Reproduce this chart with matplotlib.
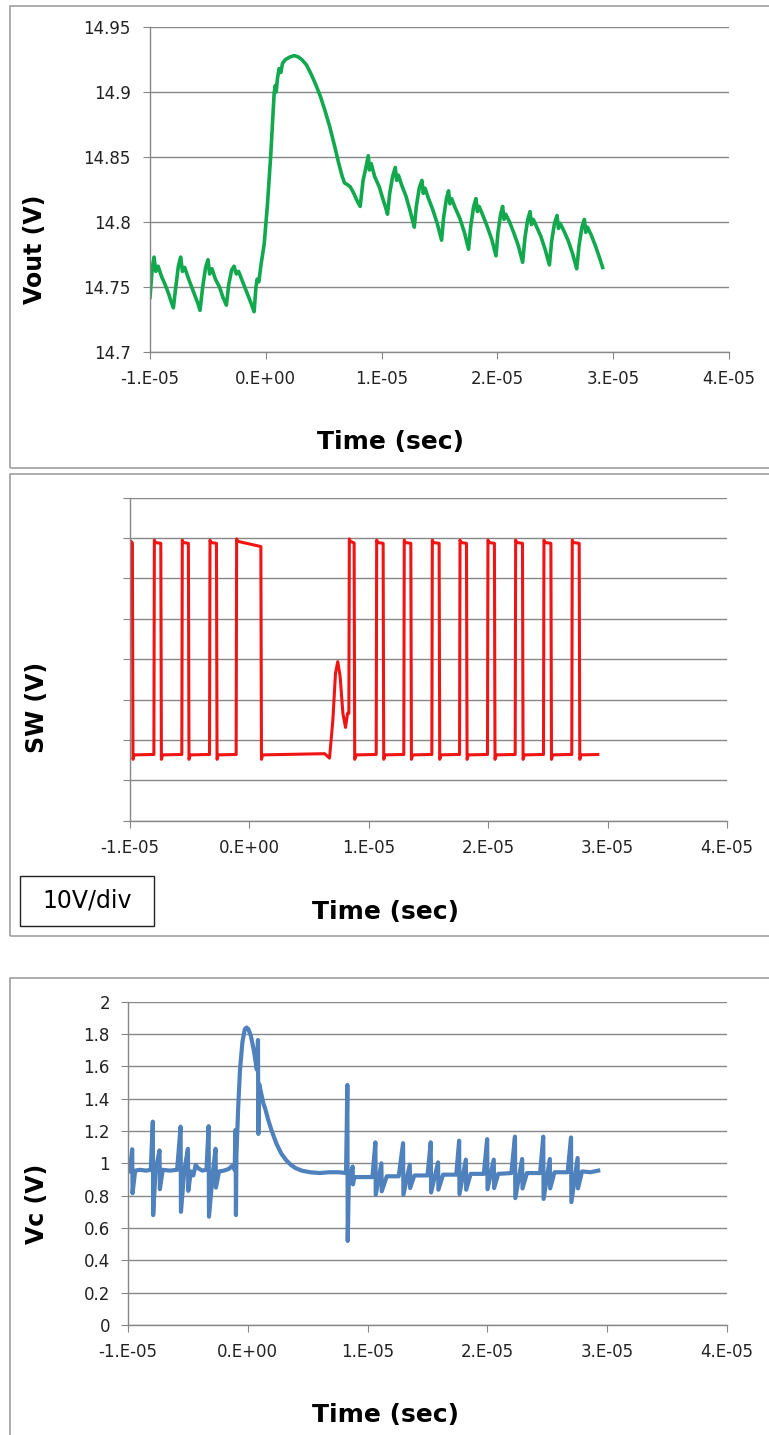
import numpy as np
import matplotlib
matplotlib.use('Agg')
import matplotlib.pyplot as plt
from matplotlib.patches import Rectangle

# ---------------------------------------------------------------
# Data (time in microseconds)

time_ticks = [-1e-5, 0.0, 1e-5, 2e-5, 3e-5, 4e-5]
time_labels = ['-1.E-05', '0.E+00', '1.E-05', '2.E-05', '3.E-05', '4.E-05']

vout_ticks = [14.7, 14.75, 14.8, 14.85, 14.9, 14.95]
vout_labels = ['14.7', '14.75', '14.8', '14.85', '14.9', '14.95']

vc_ticks = [0, 0.2, 0.4, 0.6, 0.8, 1.0, 1.2, 1.4, 1.6, 1.8, 2.0]
vc_labels = ['0', '0.2', '0.4', '0.6', '0.8', '1', '1.2', '1.4', '1.6', '1.8', '2']

# output voltage (t_us, V)
vout_t = [-10.0, -9.8, -9.65, -9.5, -9.3, -9.0, -8.7, -8.4, -8.15, -7.98,
          -7.8, -7.55, -7.35, -7.2, -7.0, -6.7, -6.4, -6.1, -5.85, -5.68,
          -5.45, -5.2, -4.99, -4.85, -4.65, -4.35, -4.0, -3.7, -3.4,
          -3.2, -2.95, -2.74, -2.55, -2.35, -2.0, -1.6, -1.25, -1.01,
          -0.85, -0.75, -0.6, -0.4, -0.14, 0.14, 0.43, 0.72, 0.82, 0.9, 1.0,
          1.15, 1.3, 1.44, 1.7, 2.1, 2.45, 2.8, 3.1, 3.5, 3.9, 4.3, 4.7,
          5.1, 5.5, 5.9, 6.3, 6.6, 6.8, 7.0, 7.3, 7.6, 7.9, 8.15,
          8.4, 8.6, 8.85, 8.95, 9.1, 9.4, 9.8, 10.1, 10.35, 10.51,
          10.7, 10.95, 11.18, 11.3, 11.45, 11.75, 12.1, 12.45, 12.82,
          13.0, 13.25, 13.48, 13.6, 13.75, 14.05, 14.4, 14.8, 15.18,
          15.35, 15.6, 15.78, 15.9, 16.05, 16.35, 16.75, 17.15, 17.51,
          17.7, 17.95, 18.15, 18.27, 18.42, 18.75, 19.1, 19.5, 19.88,
          20.05, 20.28, 20.45, 20.57, 20.72, 21.05, 21.4, 21.8, 22.18,
          22.38, 22.62, 22.82, 22.94, 23.1, 23.4, 23.75, 24.12, 24.49,
          24.68, 24.93, 25.15, 25.27, 25.42, 25.75, 26.1, 26.48, 26.85,
          27.05, 27.3, 27.51, 27.63, 27.78, 28.1, 28.45, 28.8, 29.09]
vout_v = [14.742, 14.765, 14.773, 14.762, 14.766, 14.758, 14.752, 14.745, 14.738, 14.734,
          14.748, 14.766, 14.773, 14.762, 14.765, 14.757, 14.750, 14.743, 14.737, 14.732,
          14.750, 14.765, 14.771, 14.760, 14.764, 14.756, 14.750, 14.742, 14.736,
          14.752, 14.763, 14.766, 14.760, 14.762, 14.754, 14.745, 14.737, 14.731,
          14.750, 14.756, 14.754, 14.768, 14.783, 14.813, 14.852, 14.899, 14.905, 14.900, 14.910,
          14.918, 14.915, 14.922, 14.925, 14.927, 14.928, 14.927, 14.925, 14.921, 14.914, 14.906, 14.897,
          14.886, 14.874, 14.860, 14.845, 14.835, 14.830, 14.829, 14.827, 14.822, 14.816, 14.812,
          14.832, 14.840, 14.851, 14.840, 14.845, 14.835, 14.827, 14.818, 14.811, 14.806,
          14.822, 14.835, 14.842, 14.832, 14.836, 14.828, 14.820, 14.809, 14.796,
          14.812, 14.826, 14.832, 14.822, 14.826, 14.818, 14.810, 14.799, 14.786,
          14.803, 14.818, 14.824, 14.814, 14.818, 14.811, 14.803, 14.792, 14.779,
          14.797, 14.812, 14.818, 14.808, 14.812, 14.805, 14.797, 14.787, 14.774,
          14.792, 14.806, 14.812, 14.802, 14.806, 14.800, 14.792, 14.782, 14.769,
          14.788, 14.802, 14.808, 14.798, 14.802, 14.796, 14.789, 14.779, 14.767,
          14.785, 14.799, 14.805, 14.795, 14.799, 14.793, 14.786, 14.776, 14.764,
          14.782, 14.796, 14.802, 14.792, 14.796, 14.790, 14.782, 14.773, 14.765]

# switch node: edges of each pulse (t_us) and levels (V on a -20..60 grid, 10 V/div)
sw_low = -3.7
sw_first_fall = -9.77
sw_rise = [-8.0, -5.66, -3.34, -1.11, 8.33, 10.62, 12.93, 15.28, 17.6, 19.94, 22.26, 24.63, 27.0]
sw_fall = [-7.39, -5.08, -2.73, 0.99, 8.80, 11.23, 13.55, 15.92, 18.21, 20.55, 22.9, 25.28, 27.65]
sw_top_start = [48.9, 48.9, 48.9, 49.2, 49.2, 48.9, 48.9, 48.9, 48.9, 48.9, 48.9, 48.9, 48.9]
sw_top_end = [48.7, 48.7, 48.7, 47.9, 48.8, 48.7, 48.7, 48.7, 48.7, 48.7, 48.7, 48.7, 48.7]
sw_before_rise = [-3.6, -3.6, -3.6, -3.6, 6.6, -3.6, -3.6, -3.6, -3.6, -3.6, -3.6, -3.6, -3.6]
# the ringing between the long pulse and the next one
sw_ring_t = [6.3, 6.71, 6.99, 7.21, 7.40, 7.6, 7.83, 8.05, 8.22]
sw_ring_v = [-3.4, -4.5, 4.9, 16.5, 19.4, 15.7, 6.6, 3.1, 6.6]
sw_end = (29.18, -3.6)

# control voltage: smooth baseline plus switching spikes
vc_base_t = [-10.0, -9.85, -9.4, -9.0, -8.5, -8.1, -7.7, -7.1, -6.5, -5.9, -5.3,
             -4.75, -4.55, -4.35, -4.15, -3.8, -3.45, -2.9, -2.4, -2.0, -1.6, -1.3, -1.1,
             -0.95, -0.8, -0.65, -0.45, -0.25, -0.1, 0.05, 0.25, 0.5, 0.75, 0.95, 1.1,
             1.3, 1.45, 1.7, 2.0, 2.4, 2.8, 3.2, 3.6, 4.0, 4.5, 5.2, 6.0, 6.8, 7.6, 8.2,
             8.45, 8.6, 8.9, 9.5, 10.4, 11.6, 12.6, 13.9, 15.0, 16.3, 17.4, 18.6, 19.7,
             20.9, 22.0, 23.3, 24.4, 25.6, 26.7, 27.9, 28.6, 29.25]
vc_base_v = [0.99, 0.95, 0.955, 0.96, 0.955, 0.96, 0.955, 0.96, 0.955, 0.96, 0.955,
             0.95, 0.925, 0.99, 0.97, 0.955, 0.96, 0.955, 0.95, 0.955, 0.965, 0.985, 0.96,
             1.05, 1.35, 1.58, 1.75, 1.83, 1.84, 1.83, 1.79, 1.70, 1.58, 1.49, 1.44,
             1.37, 1.34, 1.27, 1.20, 1.12, 1.06, 1.02, 0.99, 0.97, 0.955, 0.945, 0.94, 0.945, 0.945, 0.94,
             0.95, 0.925, 0.915, 0.915, 0.915, 0.92, 0.92, 0.925, 0.925, 0.93, 0.93, 0.935, 0.935,
             0.935, 0.94, 0.94, 0.94, 0.945, 0.945, 0.95, 0.945, 0.955]
vc_spike_t = [-9.65, -7.93, -7.37, -5.61, -5.0, -3.27, -2.69, -1.02, 0.85, 8.31, 8.75,
              10.65, 11.15, 12.96, 13.52, 15.27, 15.88, 17.64, 18.2, 19.98, 20.53,
              22.3, 22.9, 24.66, 25.21, 26.98, 27.53]
vc_spike_hi = [1.087, 1.258, 1.08, 1.227, 1.09, 1.23, 1.09, 1.207, 1.763, 1.485, 0.98,
               1.13, 1.0, 1.125, 0.992, 1.13, 1.006, 1.14, 1.023, 1.15, 1.023,
               1.165, 1.027, 1.165, 1.027, 1.16, 1.033]
vc_spike_lo = [0.815, 0.68, 0.84, 0.70, 0.83, 0.67, 0.85, 0.68, 1.182, 0.52, 0.87,
               0.806, 0.827, 0.806, 0.847, 0.82, 0.837, 0.81, 0.837, 0.84, 0.847,
               0.785, 0.845, 0.78, 0.845, 0.76, 0.845]

# ---------------------------------------------------------------
W, H = 769, 1435
GRID = '#878787'
BOX = '#a0a0a0'


def build_sw():
    pts = [(-10.0, 48.9), (-9.95, 49.3), (sw_first_fall - 0.03, 48.8),
           (sw_first_fall + 0.02, -4.8), (sw_first_fall + 0.12, sw_low)]
    for i in range(len(sw_rise)):
        r, f = sw_rise[i], sw_fall[i]
        if sw_before_rise[i] < 0:
            pts.append((r - 0.1, sw_before_rise[i]))
        pts.append((r, sw_before_rise[i]))
        pts.append((r + 0.04, sw_top_start[i] + 0.6))
        pts.append((r + 0.12, sw_top_start[i]))
        pts.append((f - 0.03, sw_top_end[i]))
        pts.append((f + 0.02, -4.8))
        pts.append((f + 0.12, sw_low))
    pts += list(zip(sw_ring_t, sw_ring_v))
    pts.append(sw_end)
    pts.sort()
    t, v = zip(*pts)
    return np.array(t), np.array(v)


def build_vc():
    pts = list(zip(vc_base_t, vc_base_v))
    for t, hi, lo in zip(vc_spike_t, vc_spike_hi, vc_spike_lo):
        pts.append((t, hi))
        pts.append((t + 0.03, lo))
    pts.sort()
    t, v = zip(*pts)
    return np.array(t), np.array(v)


def px_axes(fig, left, right, top, bottom):
    return fig.add_axes([left / W, 1 - bottom / H, (right - left) / W, (bottom - top) / H])


def style_axes(ax, pad_y=8):
    for side in ['top', 'right']:
        ax.spines[side].set_visible(False)
    for side in ['left', 'bottom']:
        ax.spines[side].set_color(GRID)
        ax.spines[side].set_linewidth(1.0)
    ax.grid(axis='y', color=GRID, linewidth=1.0)
    ax.set_axisbelow(True)
    ax.set_xlim(-1e-5, 4e-5)
    ax.set_xticks(time_ticks)
    ax.set_xticklabels(time_labels)
    ax.tick_params(axis='x', length=5, color=GRID, labelsize=12, pad=8, labelcolor='#222222')
    ax.tick_params(axis='y', length=5, color=GRID, labelsize=12, pad=pad_y, labelcolor='#222222')


def fig_text(fig, x, y, s, **kw):
    fig.text(x / W, 1 - y / H, s, ha='center', va='center', **kw)


fig = plt.figure(figsize=(W / 100, H / 100), dpi=100)

# panel frames
for top, bottom in [(6, 468), (474, 936), (978, 1445)]:
    fig.add_artist(Rectangle((9.5 / W, 1 - bottom / H), 1.0, (bottom - top) / H,
                             transform=fig.transFigure, fill=False, ec=BOX, lw=1.2))

# --- Vout
ax1 = px_axes(fig, 150, 729, 27, 352)
ax1.plot(np.array(vout_t) * 1e-6, vout_v, color='#12a84e', lw=2.6, solid_joinstyle='round')
ax1.set_ylim(14.7, 14.95)
ax1.set_yticks(vout_ticks)
ax1.set_yticklabels(vout_labels)
style_axes(ax1, pad_y=9)
fig_text(fig, 35, 249, 'Vout (V)', rotation=90, fontsize=17, fontweight='bold')
fig_text(fig, 390, 442, 'Time (sec)', fontsize=18, fontweight='bold')

# --- SW
sw_t, sw_v = build_sw()
ax2 = px_axes(fig, 130, 727, 497.7, 820.7)
ax2.plot(sw_t * 1e-6, sw_v, color='#f01414', lw=2.2, solid_joinstyle='round')
ax2.set_ylim(-20, 60)
ax2.set_yticks(np.arange(-20, 61, 10))
ax2.set_yticklabels([])
style_axes(ax2)
fig_text(fig, 37, 707, 'SW (V)', rotation=90, fontsize=17, fontweight='bold')
fig_text(fig, 385, 912, 'Time (sec)', fontsize=18, fontweight='bold')
fig.add_artist(Rectangle((20 / W, 1 - 925.7 / H), 134 / W, 50 / H,
                         transform=fig.transFigure, fill=False, ec='#222222', lw=1.0))
fig_text(fig, 87, 901, '10V/div', fontsize=17)

# --- Vc
vc_t, vc_v = build_vc()
ax3 = px_axes(fig, 128, 727, 1001.7, 1325)
ax3.plot(vc_t * 1e-6, vc_v, color='#4f81bd', lw=3.0, solid_joinstyle='round')
ax3.set_ylim(0, 2)
ax3.set_yticks(vc_ticks)
ax3.set_yticklabels(vc_labels)
style_axes(ax3, pad_y=8)
fig_text(fig, 37, 1204, 'Vc (V)', rotation=90, fontsize=17, fontweight='bold')
fig_text(fig, 385, 1415, 'Time (sec)', fontsize=18, fontweight='bold')

fig.savefig('out.png', dpi=100)
